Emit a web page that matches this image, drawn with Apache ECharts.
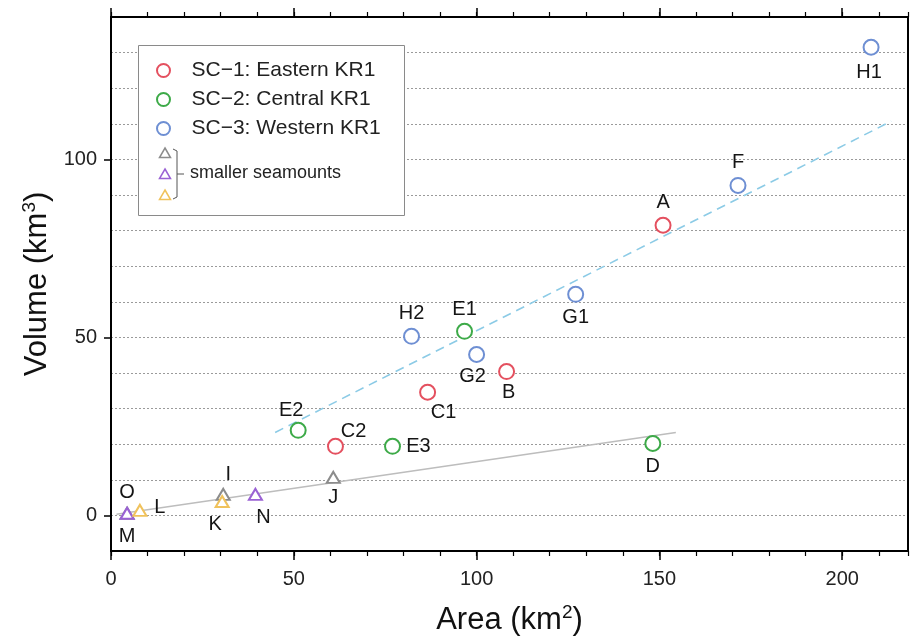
<!DOCTYPE html>
<html>
<head>
<meta charset="utf-8">
<script src="https://cdn.jsdelivr.net/npm/echarts@6/dist/echarts.min.js"></script>
<style>
  html, body { margin: 0; padding: 0; background: #ffffff; }
  #chart { width: 912px; height: 638px; }
</style>
</head>
<body>
<div id="chart"></div>
<script>
// Seamount area (km²) versus volume (km³), grouped by seamount chain segment.
const sc1Names = ['A', 'B', 'C1', 'C2'];
const sc1Area = [151.0, 108.2, 86.6, 61.4];
const sc1Volume = [81.5, 40.4, 34.6, 19.4];

const sc2Names = ['D', 'E1', 'E2', 'E3'];
const sc2Area = [148.2, 96.7, 51.2, 77.0];
const sc2Volume = [20.2, 51.7, 23.9, 19.4];

const sc3Names = ['F', 'G1', 'G2', 'H1', 'H2'];
const sc3Area = [171.5, 127.1, 100.0, 207.9, 82.2];
const sc3Volume = [92.7, 62.1, 45.2, 131.5, 50.3];

// Smaller seamounts
const grayNames = ['O', 'I', 'J'];
const grayArea = [4.4, 30.7, 60.8];
const grayVolume = [0.6, 5.9, 10.7];

const purpleNames = ['M', 'N'];
const purpleArea = [4.4, 39.5];
const purpleVolume = [0.6, 5.9];

const yellowNames = ['K', 'L'];
const yellowArea = [30.4, 7.9];
const yellowVolume = [3.9, 1.4];

// Trend lines (end points)
const sc3TrendArea = [44.9, 213.4];
const sc3TrendVolume = [23.3, 110.7];
const smallTrendArea = [1.5, 154.5];
const smallTrendVolume = [0.3, 23.3];

// Axis tick labels
const xTickValues = [0, 50, 100, 150, 200];
const yTickValues = [0, 50, 100];

const legendNames = ['SC\u22121: Eastern KR1', 'SC\u22122: Central KR1', 'SC\u22123: Western KR1'];

// Label placement around each marker, in pixels from its centre
const labelOffset = {
  A: [0, -23], B: [2, 21], C1: [16, 20], C2: [18, -15],
  D: [0, 23], E1: [0, -22], E2: [-7, -20], E3: [26, 0],
  F: [0, -23], G1: [0, 23], G2: [-4, 22], H1: [-2, 25], H2: [0, -23],
  I: [5, -20], J: [0, 20], K: [-7, 23], L: [20, -3], M: [0, 23], N: [8, 23], O: [0, -21]
};

const FONT = 'Liberation Sans, Arial, Helvetica, sans-serif';
const COLORS = {
  sc1: '#e4505f', sc2: '#3daa48', sc3: '#6e8fd3',
  gray: '#8c8c8c', purple: '#9a62d4', yellow: '#f0c25c',
  trendBlue: '#8ccbe6', trendGray: '#bdbdbd'
};

function points(names, xs, ys) {
  return names.map((n, i) => ({
    name: n,
    value: [xs[i], ys[i]],
    label: { offset: labelOffset[n] }
  }));
}

function scatter(name, names, xs, ys, color, symbol, size, width) {
  return {
    type: 'scatter',
    name: name,
    symbol: symbol,
    symbolSize: size,
    data: points(names, xs, ys),
    itemStyle: { color: color, borderColor: color, borderWidth: width, opacity: 1 },
    label: {
      show: true, position: 'inside', formatter: '{b}',
      fontSize: 20, color: '#151515', fontFamily: FONT
    },
    emphasis: { disabled: true },
    z: 3
  };
}

function trend(xs, ys, color, type) {
  return {
    type: 'line',
    data: xs.map((x, i) => [x, ys[i]]),
    symbol: 'none',
    lineStyle: { color: color, width: 1.6, type: type },
    silent: true,
    z: 2
  };
}

const frameLine = { show: true, onZero: false, lineStyle: { color: '#000', width: 2 } };
const X_MIN = 0, X_MAX = 218, Y_MIN = -10, Y_MAX = 140;

function xAxis(position, major, withLabels) {
  return {
    type: 'value', position: position, min: X_MIN, max: X_MAX, interval: 10,
    axisLine: frameLine,
    axisTick: major
      ? { show: true, inside: false, length: 9, customValues: xTickValues, lineStyle: { color: '#000', width: 1.5 } }
      : { show: true, inside: false, length: 5, lineStyle: { color: '#000', width: 1.2 } },
    axisLabel: withLabels
      ? { show: true, customValues: xTickValues, fontSize: 20, color: '#222', fontFamily: FONT, margin: 18 }
      : { show: false },
    splitLine: { show: false },
    name: withLabels ? 'Area (km{sup|2})' : '',
    nameLocation: 'middle',
    nameGap: 52,
    nameTextStyle: {
      fontSize: 31, color: '#111', fontFamily: FONT,
      rich: { sup: { fontSize: 19, fontFamily: FONT, color: '#111', padding: [0, 0, 15, 0] } }
    }
  };
}

const option = {
  backgroundColor: '#ffffff',
  animation: false,
  grid: { left: 111, right: 4, top: 17, bottom: 87, show: false, outerBoundsMode: 'none' },
  legend: {
    show: true,
    data: legendNames,
    orient: 'vertical',
    left: 156, top: 60,
    padding: 0,
    itemWidth: 46, itemHeight: 13, itemGap: 8,
    selectedMode: false,
    textStyle: { fontSize: 21, color: '#222', fontFamily: FONT, lineHeight: 20 },
    z: 6
  },
  xAxis: [
    xAxis('bottom', true, true),
    xAxis('bottom', false, false),
    xAxis('top', true, false),
    xAxis('top', false, false)
  ],
  yAxis: [
    {
      type: 'value', position: 'left', min: Y_MIN, max: Y_MAX, interval: 10,
      axisLine: frameLine,
      axisTick: { show: true, inside: false, length: 7, customValues: yTickValues, lineStyle: { color: '#000', width: 1.5 } },
      axisLabel: { show: true, customValues: yTickValues, fontSize: 20, color: '#222', fontFamily: FONT, margin: 14 },
      splitLine: { show: false },
      name: 'Volume (km{sup|3})',
      nameLocation: 'middle',
      nameGap: 52,
      nameTextStyle: {
        fontSize: 31, color: '#111', fontFamily: FONT,
        rich: { sup: { fontSize: 19, fontFamily: FONT, color: '#111', padding: [0, 0, 15, 0] } }
      }
    },
    {
      // right frame edge; carries the horizontal grid every 10 km³
      type: 'value', position: 'right', min: Y_MIN, max: Y_MAX, interval: 10,
      axisLine: frameLine,
      axisTick: { show: false },
      axisLabel: { show: false },
      splitLine: { show: true, lineStyle: { color: '#9a9a9a', width: 1, type: [2, 2] } }
    }
  ],
  graphic: [
    {
      type: 'rect', left: 138, top: 45, z: 5,
      shape: { width: 266, height: 170 },
      style: { fill: '#ffffff', stroke: '#8a8a8a', lineWidth: 1 }
    },
    {
      type: 'polygon', z: 7,
      shape: { points: [[165, 148], [170.5, 157.5], [159.5, 157.5]] },
      style: { fill: '#fff', stroke: COLORS.gray, lineWidth: 1.5 }
    },
    {
      type: 'polygon', z: 7,
      shape: { points: [[165, 169], [170.5, 178.5], [159.5, 178.5]] },
      style: { fill: '#fff', stroke: COLORS.purple, lineWidth: 1.5 }
    },
    {
      type: 'polygon', z: 7,
      shape: { points: [[165, 190], [170.5, 199.5], [159.5, 199.5]] },
      style: { fill: '#fff', stroke: COLORS.yellow, lineWidth: 1.5 }
    },
    {
      type: 'polyline', z: 7,
      shape: { points: [[173, 149], [177, 151], [177, 197], [173, 199]] },
      style: { fill: null, stroke: '#555', lineWidth: 1 }
    },
    {
      type: 'line', z: 7,
      shape: { x1: 177, y1: 174, x2: 184, y2: 174 },
      style: { stroke: '#555', lineWidth: 1 }
    },
    {
      type: 'text', z: 7, left: 190, top: 164,
      style: { text: 'smaller seamounts', fontSize: 18, fontFamily: FONT, fill: '#222' }
    }
  ],
  series: [
    trend(sc3TrendArea, sc3TrendVolume, COLORS.trendBlue, [9, 6]),
    trend(smallTrendArea, smallTrendVolume, COLORS.trendGray, 'solid'),
    scatter(legendNames[0], sc1Names, sc1Area, sc1Volume, COLORS.sc1, 'emptyCircle', 15, 2),
    scatter(legendNames[1], sc2Names, sc2Area, sc2Volume, COLORS.sc2, 'emptyCircle', 15, 2),
    scatter(legendNames[2], sc3Names, sc3Area, sc3Volume, COLORS.sc3, 'emptyCircle', 15, 2),
    scatter('gray', grayNames, grayArea, grayVolume, COLORS.gray, 'emptyTriangle', [13, 11], 1.8),
    scatter('purple', purpleNames, purpleArea, purpleVolume, COLORS.purple, 'emptyTriangle', [13, 11], 1.8),
    scatter('yellow', yellowNames, yellowArea, yellowVolume, COLORS.yellow, 'emptyTriangle', [13, 11], 1.8)
  ]
};

const chart = echarts.init(document.getElementById('chart'), null, { renderer: 'canvas' });
chart.setOption(option);
</script>
</body>
</html>
